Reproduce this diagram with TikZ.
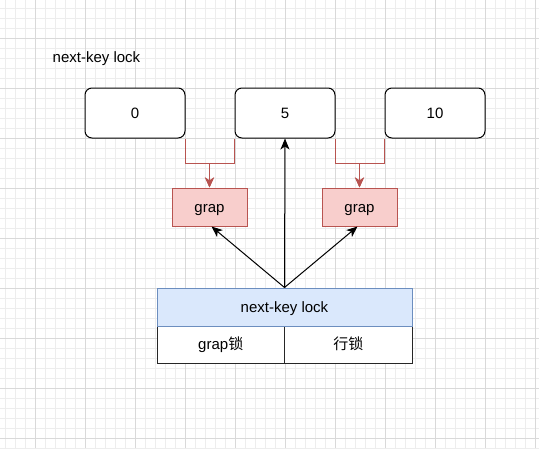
\documentclass[tikz,border=0pt]{standalone}
\usepackage{fontspec}
\setmainfont{Liberation Sans}
\newfontfamily\cjk{Noto Sans CJK SC}
\usetikzlibrary{arrows.meta}
\definecolor{redS}{HTML}{B85450}
\definecolor{redF}{HTML}{F8CECC}
\definecolor{blueS}{HTML}{6C8EBF}
\definecolor{blueF}{HTML}{DAE8FC}
\definecolor{minorG}{HTML}{EDEDED}
\definecolor{majorG}{HTML}{D9D9D9}
\tikzset{
  txt/.style={text height=13.6pt, text depth=3.2pt},
  keybox/.style={txt, draw=black, line width=1pt, rounded corners=7pt, fill=white, minimum width=100pt, minimum height=50pt, inner sep=0pt},
  grapbox/.style={txt, draw=redS, line width=1pt, fill=redF, minimum width=75pt, minimum height=38pt, inner sep=0pt},
  lockbox/.style={txt, draw=blueS, line width=1pt, fill=blueF, minimum width=255pt, minimum height=38pt, inner sep=0pt},
  cellbox/.style={txt, draw=black!85, line width=1pt, fill=white, minimum width=127.5pt, minimum height=37pt, inner sep=0pt},
  redarrow/.style={draw=redS, line width=1pt, -{Stealth[length=10pt,width=9pt,inset=3pt]}},
  blackarrow/.style={draw=black, line width=1pt, -{Stealth[length=11pt,width=9pt,inset=3pt]}},
  plain/.style={txt, inner sep=0pt}
}
\begin{document}
\begin{tikzpicture}[x=1pt,y=-1pt,font=\fontsize{15}{18}\selectfont]
\useasboundingbox (0,0) rectangle (539,448);
\fill[white] (0,0) rectangle (539,448);
\foreach \x in {5,15,...,535} \draw[minorG, line width=0.8pt] (\x,0) -- (\x,448);
\foreach \y in {8,18,...,448} \draw[minorG, line width=0.8pt] (0,\y) -- (539,\y);
\foreach \x in {35,85,...,535} \draw[majorG, line width=0.8pt] (\x,0) -- (\x,448);
\foreach \y in {38,88,...,438} \draw[majorG, line width=0.8pt] (0,\y) -- (539,\y);

\node[plain] (title) at (96.5,57) {next-key lock};

\node[keybox] (b0) at (135,113) {0};
\node[keybox] (b5) at (285,113) {5};
\node[keybox] (b10) at (435,113) {10};

\node[grapbox] (g1) at (209.5,207) {grap};
\node[grapbox] (g2) at (359.5,207) {grap};

\node[cellbox] (c1) at (220.75,344.5) {grap{\cjk 锁}};
\node[cellbox] (c2) at (348.25,344.5) {{\cjk 行锁}};
\node[lockbox] (t) at (284.5,307) {next-key lock};

\draw[redarrow] (b0.south east) -- ([yshift=-25pt]b0.south east) -| (g1.north);
\draw[redarrow] (b5.south west) -- ([yshift=-25pt]b5.south west) -| (g1.north);
\draw[redarrow] (b5.south east) -- ([yshift=-25pt]b5.south east) -| (g2.north);
\draw[redarrow] (b10.south west) -- ([yshift=-25pt]b10.south west) -| (g2.north);

\draw[blackarrow] (t.north) -- (b5.south);
\draw[blackarrow] (t.north) -- ([xshift=2pt]g1.south);
\draw[blackarrow] (t.north) -- ([xshift=-2pt]g2.south);
\end{tikzpicture}
\end{document}
